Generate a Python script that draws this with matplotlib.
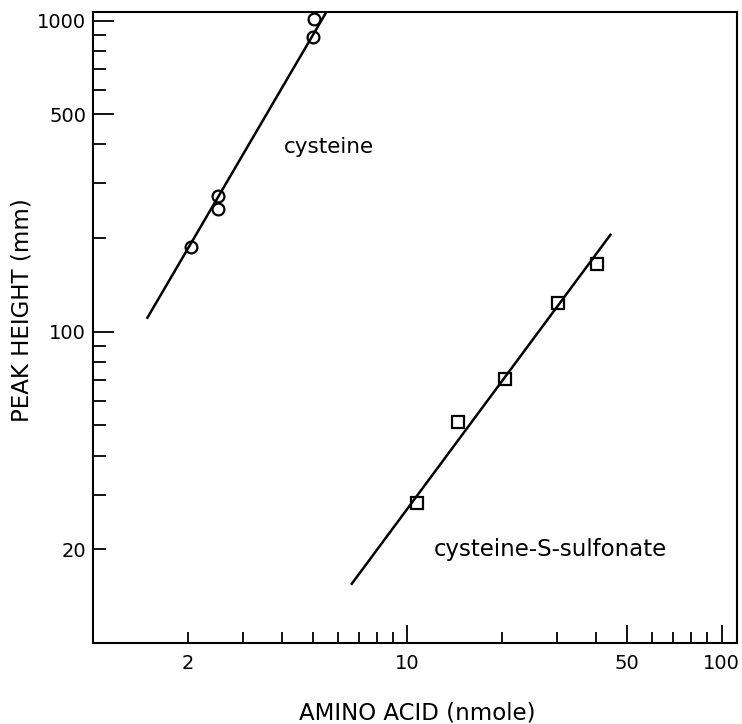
import matplotlib
matplotlib.use("Agg")
import matplotlib.pyplot as plt
from matplotlib.ticker import FixedLocator, FixedFormatter

# Messpunkte
cys_x = [2.05, 2.49, 2.49, 5.03, 5.04]
cys_y = [187, 248, 273, 889, 1010]
sulf_x = [10.7, 14.5, 20.5, 30.2, 40.2]
sulf_y = [28.1, 51.4, 70.5, 123.5, 165]

# Ausgleichsgeraden (Endpunkte)
cys_line_x = [1.49, 5.6]
cys_line_y = [111, 1090]
sulf_line_x = [6.66, 44.3]
sulf_line_y = [15.5, 205]

# Ticks
x_major = [10, 50, 100]
x_minor = [2, 3, 4, 5, 6, 7, 8, 9, 20, 30, 40, 60, 70, 80, 90]
x_minor_labels = ["2"] + [""] * 14
y_major = [100, 500, 1000]
y_minor = [20, 30, 40, 50, 60, 70, 80, 90, 200, 300, 400, 600, 700, 800, 900]
y_minor_labels = ["20"] + [""] * 14

plt.rcParams["font.family"] = "DejaVu Sans"

fig = plt.figure(figsize=(7.42, 7.24), dpi=100)
ax = fig.add_axes([93 / 742, 1 - 643 / 724, 644 / 742, 631 / 724])

ax.plot(cys_line_x, cys_line_y, color="black", lw=1.8)
ax.plot(sulf_line_x, sulf_line_y, color="black", lw=1.8)
ax.plot(cys_x, cys_y, "o", ms=8.5, mfc="none", mec="black", mew=1.6)
ax.plot(sulf_x, sulf_y, "s", ms=8.5, mfc="none", mec="black", mew=1.6)

ax.set_xscale("log")
ax.set_yscale("log")
ax.set_xlim(1.0, 112)
ax.set_ylim(10, 1066)

ax.xaxis.set_major_locator(FixedLocator(x_major))
ax.xaxis.set_major_formatter(FixedFormatter([str(v) for v in x_major]))
ax.xaxis.set_minor_locator(FixedLocator(x_minor))
ax.xaxis.set_minor_formatter(FixedFormatter(x_minor_labels))
ax.yaxis.set_major_locator(FixedLocator(y_major))
ax.yaxis.set_major_formatter(FixedFormatter([str(v) for v in y_major]))
ax.yaxis.set_minor_locator(FixedLocator(y_minor))
ax.yaxis.set_minor_formatter(FixedFormatter(y_minor_labels))

ax.tick_params(axis="both", which="both", direction="in", width=1.3,
               labelsize=14)
ax.tick_params(axis="x", which="major", length=13, pad=8)
ax.tick_params(axis="x", which="minor", length=8, pad=8)
ax.tick_params(axis="y", which="major", length=15, pad=5)
ax.tick_params(axis="y", which="minor", length=9, pad=5)

for sp in ax.spines.values():
    sp.set_linewidth(1.5)

ax.text(5.63, 392, "cysteine", ha="center", va="center", fontsize=15.5)
ax.text(28.5, 20.0, "cysteine-S-sulfonate", ha="center", va="center",
        fontsize=16.5)

ax.set_xlabel("AMINO ACID (nmole)", fontsize=16.5, va="center")
ax.xaxis.set_label_coords(0.503, -0.111)
ax.set_ylabel("PEAK HEIGHT (mm)", fontsize=16.5, va="center", ha="center")
ax.yaxis.set_label_coords(-0.110, 0.528)

fig.savefig("out.png", dpi=100)
